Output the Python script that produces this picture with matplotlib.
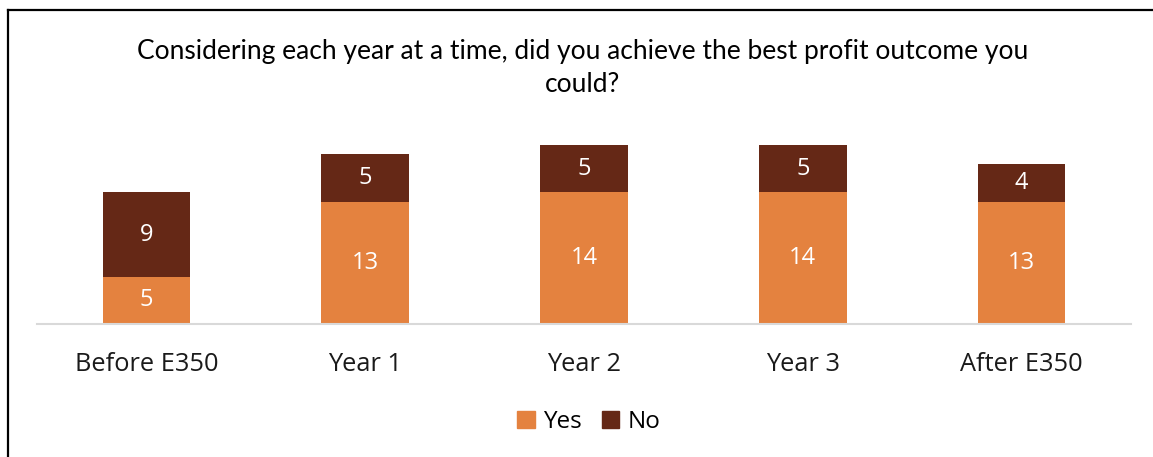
import matplotlib
matplotlib.use("Agg")
import matplotlib.pyplot as plt
from matplotlib.lines import Line2D
from matplotlib.patches import Patch

categories = ["Before E350", "Year 1", "Year 2", "Year 3", "After E350"]
yes_counts = [5, 13, 14, 14, 13]
no_counts = [9, 5, 5, 5, 4]
series_names = ["Yes", "No"]
title_text = "Considering each year at a time, did you achieve the best profit outcome you\ncould?"

YES_COLOR = "#E4823F"
NO_COLOR = "#652816"

W, H = 1153, 457
fig = plt.figure(figsize=(W / 100, H / 100), dpi=100)

# plot area in pixel terms
left_px, right_px, base_px, top_val = 37, 1131, 324, 20
px_per_unit = 9.42
ax = fig.add_axes([left_px / W, (H - base_px) / H,
                   (right_px - left_px) / W, top_val * px_per_unit / H])

x = list(range(len(categories)))
bw = 0.40
b1 = ax.bar(x, yes_counts, width=bw, color=YES_COLOR, label=series_names[0])
b2 = ax.bar(x, no_counts, width=bw, bottom=yes_counts, color=NO_COLOR, label=series_names[1])

for bars, vals, bottoms in ((b1, yes_counts, [0] * len(x)), (b2, no_counts, yes_counts)):
    for rect, v, b in zip(bars, vals, bottoms):
        ax.text(rect.get_x() + rect.get_width() / 2, b + v / 2, str(v),
                ha="center", va="center", color="white", fontsize=17,
                family="Open Sans")

ax.set_xlim(-0.5, len(x) - 0.5)
ax.set_ylim(0, top_val)
ax.set_xticks(x)
ax.set_xticklabels(categories, fontsize=18.3, family="Open Sans", color="#1a1a1a")
ax.tick_params(axis="x", length=0, pad=20)
ax.set_yticks([])
for s in ("left", "right", "top"):
    ax.spines[s].set_visible(False)
ax.spines["bottom"].set_color("#d9d9d9")
ax.spines["bottom"].set_linewidth(1.5)

fig.text(583 / W, 1 - 68 / H, title_text, ha="center", va="center",
         fontsize=19, family="Lato", color="black", linespacing=1.42)

handles = [Patch(color=YES_COLOR), Patch(color=NO_COLOR)]
fig.legend(handles, series_names, loc="center", bbox_to_anchor=(589 / W, 1 - 422 / H),
           ncol=2, frameon=False, prop={"family": "Open Sans", "size": 17.5},
           handlelength=0.72, handleheight=0.72, handletextpad=0.35, columnspacing=0.8)

# outer frame, left and top edges
fig.add_artist(Line2D([8 / W, 8 / W], [0, 1 - 10 / H], color="black", lw=1.6,
                      transform=fig.transFigure))
fig.add_artist(Line2D([8 / W, 1], [1 - 10 / H, 1 - 10 / H], color="black", lw=1.6,
                      transform=fig.transFigure))

fig.savefig("out.png", dpi=100)
